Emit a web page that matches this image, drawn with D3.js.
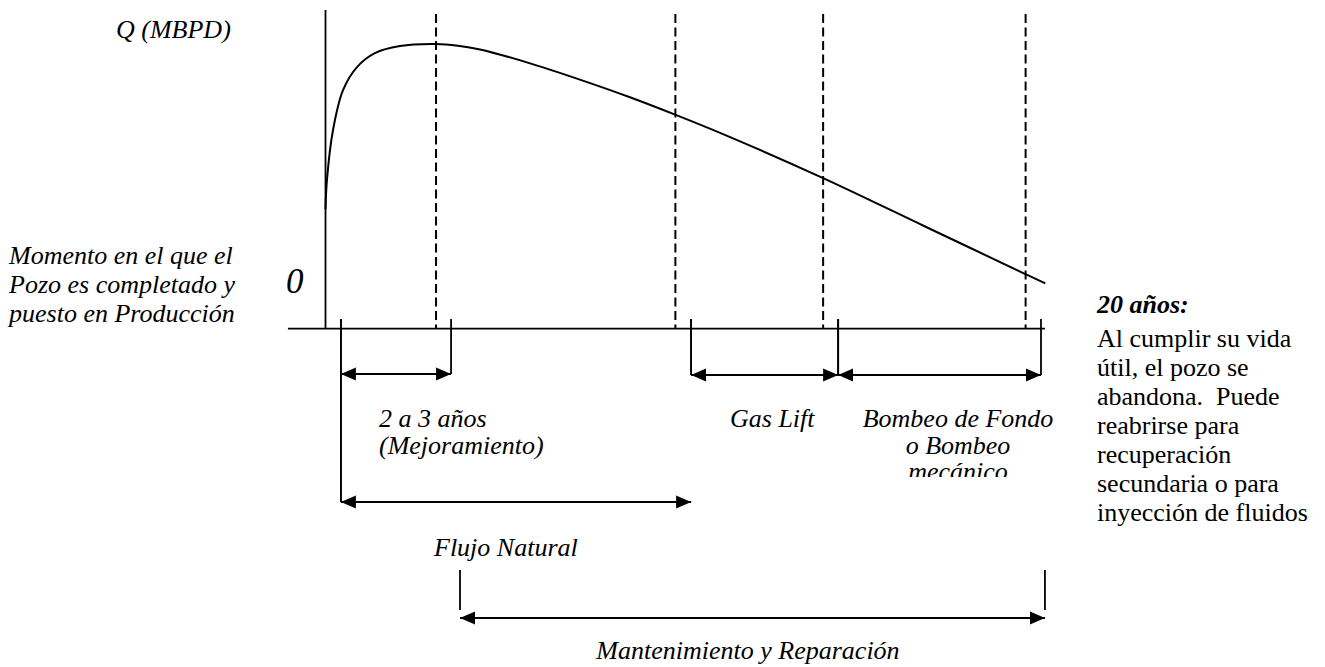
<!DOCTYPE html>
<html>
<head>
<meta charset="utf-8">
<script src="https://cdn.jsdelivr.net/npm/d3@7"></script>
<style>
  body { margin: 0; background: #fff; }
  svg text { font-family: "Liberation Serif", "Times New Roman", serif; font-size: 26px; fill: #000; }
  .it { font-style: italic; }
</style>
</head>
<body>
<svg id="chart" width="1325" height="667"></svg>
<script>
// production curve (years after completion, % of peak rate)
const years = [0, 0.04, 0.21, 0.49, 0.88, 1.38, 2.08, 3.09, 3.70, 4.32, 5.72, 7.11, 8.51, 9.79, 11.31, 13.91, 16.76, 19.56, 20.12];
const rate  = [42, 52.2, 69.8, 83.8, 91.9, 96.8, 99.3, 100, 99.4, 98.1, 93.2, 87.5, 81.3, 75.1, 67.3, 52.9, 35.9, 19.2, 15.9];

// dashed phase markers (years)
const phaseLines = [3.09, 9.78, 13.91, 19.57];

// span arrows (years)
const spanStart = [0.43, 0.43, 10.22, 14.33, 3.76];
const spanEnd   = [3.51, 10.22, 14.33, 20, 20.11];
const spanLabels = [
  ["2 a 3 años", "(Mejoramiento)"],
  ["Flujo Natural"],
  ["Gas Lift"],
  ["Bombeo de Fondo", "o Bombeo", "mecánico"],
  ["Mantenimiento y Reparación"]
];

const yLabel = "Q (MBPD)";
const zeroLabel = "0";
const startNote = ["Momento en el que el", "Pozo es completado y", "puesto en Producción"];
const endTitle = "20 años:";
const endNote = ["Al cumplir su vida", "útil, el pozo se", "abandona.  Puede", "reabrirse para",
                 "recuperación", "secundaria o para", "inyección de fluidos"];

const svg = d3.select("#chart");
const x = d3.scaleLinear().domain([0, 20]).range([325.5, 1041]);
const y = d3.scaleLinear().domain([0, 100]).range([328.7, 44]);
const axisY = y(0);

// arrow heads
const defs = svg.append("defs");
defs.append("marker")
  .attr("id", "head")
  .attr("markerUnits", "userSpaceOnUse")
  .attr("markerWidth", 16).attr("markerHeight", 14)
  .attr("viewBox", "0 -7 16 14")
  .attr("refX", 15).attr("refY", 0)
  .attr("orient", "auto-start-reverse")
  .append("path").attr("d", "M0,-6.5L15,0L0,6.5Z").attr("fill", "#000");

// the Bombeo text box is cut off at its bottom in the original
defs.append("clipPath").attr("id", "boxclip")
  .append("rect").attr("x", 840).attr("y", 390).attr("width", 240).attr("height", 87);

// axes
svg.append("line")
  .attr("x1", x(0)).attr("x2", x(0)).attr("y1", 10).attr("y2", axisY)
  .attr("stroke", "#000").attr("stroke-width", 1.8);
svg.append("line")
  .attr("x1", x(-1.05)).attr("x2", x(20.11)).attr("y1", axisY).attr("y2", axisY)
  .attr("stroke", "#000").attr("stroke-width", 1.8);

// dashed phase lines
svg.selectAll(".phase")
  .data(phaseLines)
  .join("line")
  .attr("class", "phase")
  .attr("x1", d => x(d)).attr("x2", d => x(d))
  .attr("y1", 14).attr("y2", axisY)
  .attr("stroke", "#000").attr("stroke-width", 2)
  .attr("stroke-dasharray", "9,4.5");

// production curve
const line = d3.line()
  .x((d, i) => x(years[i]))
  .y(d => y(d))
  .curve(d3.curveCatmullRom.alpha(0.5));
svg.append("path")
  .datum(rate)
  .attr("d", line)
  .attr("fill", "none")
  .attr("stroke", "#000")
  .attr("stroke-width", 2);

// span brackets and arrows
const rowY = [374, 502, 375, 375, 618];
const tickTop = [319, 319, 319, 319, 570];
const tickBottom = [502, 374, 502, 375, 375, 375, 375, 375, 610, 610];

spanStart.forEach((s, i) => {
  const g = svg.append("g");
  [s, spanEnd[i]].forEach((v, k) => {
    g.append("line")
      .attr("x1", x(v)).attr("x2", x(v))
      .attr("y1", tickTop[i]).attr("y2", tickBottom[i * 2 + k])
      .attr("stroke", "#000").attr("stroke-width", 1.8);
  });
  g.append("line")
    .attr("x1", x(s)).attr("x2", x(spanEnd[i]))
    .attr("y1", rowY[i]).attr("y2", rowY[i])
    .attr("stroke", "#000").attr("stroke-width", 2)
    .attr("marker-start", "url(#head)")
    .attr("marker-end", "url(#head)");
});

// span labels
const labelPos = [
  { x: 379, y: 427, anchor: "start" },
  { x: 434, y: 556, anchor: "start" },
  { x: 730, y: 427, anchor: "start" },
  { x: 958, y: 427, anchor: "middle" },
  { x: 748, y: 659, anchor: "middle" }
];
spanLabels.forEach((lines, i) => {
  const t = svg.append("text")
    .attr("class", "it")
    .attr("text-anchor", labelPos[i].anchor);
  if (i === 3) t.attr("clip-path", "url(#boxclip)");
  lines.forEach((l, k) => {
    t.append("tspan")
      .attr("x", labelPos[i].x)
      .attr("y", labelPos[i].y + k * 26.5)
      .text(l);
  });
});

// axis labels
svg.append("text").attr("class", "it").attr("x", 116).attr("y", 38).text(yLabel);
svg.append("text").attr("class", "it").attr("x", 286).attr("y", 293)
  .style("font-size", "35px").text(zeroLabel);

svg.append("text").attr("class", "it")
  .selectAll("tspan").data(startNote).join("tspan")
  .attr("x", 9).attr("y", (d, i) => 264 + i * 29).text(d => d);

svg.append("text").attr("x", 1097).attr("y", 313)
  .style("font-weight", "bold").style("font-style", "italic").text(endTitle);

svg.append("text").attr("xml:space", "preserve").style("white-space", "pre")
  .selectAll("tspan").data(endNote).join("tspan")
  .attr("x", 1097).attr("y", (d, i) => 347 + i * 29).text(d => d);
</script>
</body>
</html>
